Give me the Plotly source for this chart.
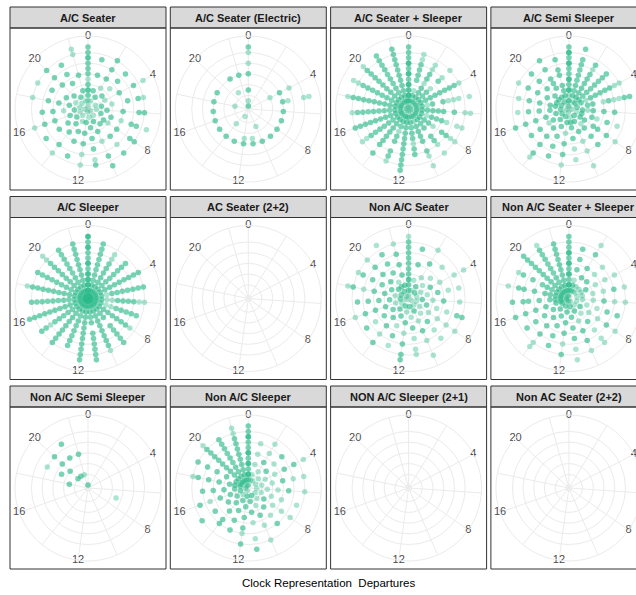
import plotly.graph_objects as go

# ---------------- data ----------------
PANEL_TITLES = [
    "A/C Seater", "A/C Seater (Electric)", "A/C Seater + Sleeper", "A/C Semi Sleeper",
    "A/C Sleeper", "AC Seater (2+2)", "Non A/C Seater", "Non A/C Seater + Sleeper",
    "Non A/C Semi Sleeper", "Non A/C Sleeper", "NON A/C Sleeper (2+1)", "Non AC Seater (2+2)",
]
TICK_HOURS = [0, 4, 8, 12, 16, 20]
TICK_LABELS = ["0", "4", "8", "12", "16", "20"]
GRID_HOURS = [0, 2, 4, 6, 8, 10, 12, 14, 16, 18, 20, 22]
MINUTE_BREAKS = [0, 10, 20, 30, 40, 50]

# one string per departure hour (0..23); each token is a departure minute,
# every "+" marks one more departure at that same time (overplotted point)
A_C_SEATER = [
    "0 5 10+ 15+ 20+ 25 30 35+ 40+ 45+ 50+ 55+", "5 15+ 30+ 45+", "10+ 20 30+ 40+ 50+",
    "15+ 25 35+ 45+", "5 15 30+ 45+ 55", "10+ 20 35+ 45+ 50", "5 15+ 30+ 45+ 50+",
    "10+ 20+ 30 40+ 45+ 55", "0 15+ 20 30+ 45+ 50+", "5 15+ 30+ 40 50+", "10+ 20+ 30 45+ 55+",
    "5 15+ 25+ 35+ 45 50+", "0 10+ 20+ 30+ 40 50", "10 20+ 30+ 45+", "5 15+ 25+ 40+ 50",
    "10+ 20+ 30+ 45+", "5 15+ 30+ 40+ 50", "0 10+ 20 30+ 40+", "5 15+ 25+ 35+ 50",
    "10 20+ 35+ 50", "5 15+ 30+ 40+ 50+", "10+ 25+ 35+ 45+", "5 15+ 30+ 50 55",
    "15 30 45",
]
A_C_SEATER_ELECTRIC = [
    "0+ 5 15+ 30+ 40 50 55", "", "", "", "20 30+ 40", "30+ 35 50 55", "30+", "30+",
    "30+", "30+", "15 30+", "25 30+", "25 30+", "5 30+", "15 30+", "30+", "30+", "30+",
    "10 30+", "30+", "", "15 30+", "30+", "55",
]
A_C_SEATER_SLEEPER = [
    "0 5+ 10+ 15+ 20+ 25+ 30+ 35+ 40+ 45+ 50+ 55+", "5 10+ 15 25+ 30+ 35+ 40+ 45 50",
    "5+ 10+ 15+ 20+ 25 30+ 35+ 40 45", "0 5 10+ 15+ 20+ 25 35+ 40 50",
    "5+ 10+ 15+ 20+ 25+ 30+ 35+ 40+ 45+ 50", "5 10+ 15 20+ 30+ 35 40 45 55",
    "0 5+ 10+ 15+ 20+ 25+ 30+ 40+ 50 55", "5 10+ 15 20+ 25+ 30+ 35 45 50",
    "5+ 10+ 15+ 20+ 25 35+ 40+ 45 50", "0 5 10+ 15+ 20+ 30+ 35+ 40 50",
    "5+ 10 15+ 20+ 25+ 30+ 40+ 45 55", "5 10+ 15+ 20+ 25+ 30 35+ 40+",
    "0 5+ 10+ 15+ 20+ 25+ 30+ 35+ 40+ 45+ 50+ 55+", "5+ 10+ 15+ 20 25+ 30+ 40+ 45+ 50",
    "5 10+ 15+ 20+ 25+ 30+ 35+ 40+ 50+", "0 5+ 10+ 15+ 20+ 25+ 30+ 35+ 40+ 45 50",
    "5+ 10+ 15+ 20+ 25+ 30+ 35+ 40+ 45+ 50+", "5 10+ 15+ 20+ 25+ 30+ 35+ 40+ 45+ 50",
    "0 5+ 10+ 15+ 20+ 25+ 30+ 35+ 40+ 45+ 50+ 55", "5+ 10+ 15+ 20+ 25+ 30+ 35+ 40+ 45+ 50 55",
    "5 10+ 15+ 20+ 25+ 30+ 35+ 40+ 45+ 50+ 55", "0 5+ 10+ 15+ 20+ 25+ 30+ 35+ 40+ 45+ 50+ 55+",
    "5+ 10+ 15+ 20+ 25+ 30+ 35+ 40+ 45+ 50+ 55+", "5 10+ 15 20+ 30+ 40+",
]
A_C_SEMI_SLEEPER = [
    "0 5+ 10 15+ 20+ 25+ 30+ 35+ 40+ 45+ 50+ 55+", "10+ 15+ 20+ 25+ 30+ 35+ 40+ 45+ 55+",
    "5 10+ 15+ 20+ 25+ 30+ 35+ 40 45+", "5+ 10+ 15+ 20+ 25+ 30+ 35+ 40+ 45+",
    "10+ 15 20+ 25+ 30+ 35+ 40+ 45 50", "5+ 15+ 20+ 30 35+ 40 45 50+ 55+",
    "0 10+ 15 20+ 30+ 40+", "5 10+ 20+ 25 35+ 45", "10+ 15+ 25+ 30+ 40+ 50",
    "5+ 15 20+ 30+ 40+", "10+ 20+ 30 40 55", "5 10+ 15+ 25+ 35 45", "0 10+ 20 30+ 40+ 50",
    "5+ 15+ 25+ 35+ 45+", "10+ 20+ 30+ 40+ 50+ 55", "5+ 15+ 20 30+ 40+",
    "0 10+ 20+ 30+ 40+ 50+", "5+ 15+ 25+ 35+ 45", "10+ 15+ 25+ 35+ 45",
    "5+ 10+ 20+ 30+ 40+ 50", "10+ 15+ 25+ 35+ 45+", "5+ 10+ 20+ 25+ 30+ 40+ 50+",
    "0 10+ 15+ 20+ 30+ 35+ 45+", "5 15+ 25+ 40+ 50+",
]
A_C_SLEEPER = [
    "0+ 5+ 10+ 15+ 20+ 25+ 30+ 35+ 40+ 45+ 50+ 55+", "0+ 5+ 10+ 15+ 20+ 25+ 30+ 35+ 40+ 45+ 50+",
    "0+ 5+ 10+ 15+ 20+ 25+ 30+ 35+ 40 45", "0+ 5+ 10+ 15+ 20+ 25+ 30+ 35+ 40+ 45+",
    "0+ 5+ 10+ 15+ 20+ 25+ 30+ 35+ 40+ 45+ 50+", "0+ 5+ 10+ 15 20+ 25+ 30+ 35+ 40+ 45+ 50+",
    "0+ 5+ 10+ 15 20 25+ 30+ 35+ 40+ 45 50", "0+ 5+ 10+ 15 20 25+ 30+ 35+ 40+ 45+",
    "0+ 5+ 10+ 15+ 20+ 25+ 30+ 35+ 40+ 45", "0+ 5+ 10+ 15+ 20+ 30+ 35+ 40+ 45+ 50+",
    "0+ 5+ 10+ 15+ 20+ 25+ 30+ 35+ 40+ 45+ 50", "0+ 5+ 10+ 15+ 20+ 30+ 35+ 40+ 45+ 50+ 55+",
    "0+ 5+ 10+ 15+ 20+ 25+ 30+ 35+ 40+ 45+ 50+ 55+", "0+ 5+ 10+ 15+ 20+ 25+ 30+ 35+ 40+ 45+",
    "0+ 5+ 10+ 15+ 20+ 25+ 30+ 35+ 40+ 45+ 50+", "0+ 5+ 10+ 15+ 20+ 25+ 30+ 35+ 40 45+ 50+",
    "0+ 5+ 10+ 15+ 20+ 25+ 30+ 35+ 40+ 45+ 50+ 55+", "0+ 5+ 10+ 15+ 20+ 25+ 30+ 35+ 40+ 45+ 50+",
    "0+ 5+ 10+ 15+ 20+ 25+ 30+ 35+ 40+ 45+ 50+ 55", "0+ 5+ 10+ 15+ 20+ 25+ 30+ 35+ 40+ 45+ 50+",
    "0+ 5+ 10+ 15+ 20+ 25+ 30+ 35+ 40+ 45+ 50 55", "0+ 5+ 10+ 15+ 20+ 25+ 30+ 35+ 40+ 45+ 50+",
    "0+ 5+ 10+ 15+ 20+ 25+ 30+ 35+ 40+ 45+ 50+", "0+ 5+ 10+ 15+ 20+ 30+ 45+ 55+",
]
NON_A_C_SEATER = [
    "0 5 10+ 15 20+ 25 30+ 35+ 40 45+ 50 55", "5 15 30+ 45+", "10+ 20 35+ 50", "5+ 15 25 40",
    "10 20+ 30 45 55", "5 15 25+ 35 45", "10+ 20 30+ 45", "5 15+ 25 35 45+ 50+",
    "0 10 20 30 40 50", "5 15 25+ 35 45", "10+ 20 30+ 40 55", "5+ 15 25+ 35 45 50",
    "10 20+ 30 40+ 50+ 55+", "5+ 15+ 25 35+ 45", "10+ 20+ 30+ 40 50+", "5 15+ 25+ 35 45+",
    "0 10 20+ 30+ 40+ 50", "5+ 15+ 25+ 35+ 45+", "10 20+ 30+ 40 50+ 55",
    "5+ 15+ 25+ 35+ 45+ 50", "0 10+ 20+ 30+ 40+ 50", "5+ 10+ 15 25+ 35+ 45+ 55",
    "10+ 20+ 30+ 40+ 50", "5 15+ 25 40 50",
]
NON_A_C_SEATER_SLEEPER = [
    "0 5+ 10+ 15+ 20+ 25+ 30+ 35+ 40+ 45+ 50+ 55+", "5+ 10+ 15 25+ 35+ 45+",
    "5 10 20+ 30+ 45+ 55", "5 10 20+ 30 40", "10 15+ 25 35 45", "5 10 20 30 40+ 50",
    "10 20 30+ 40 50", "5 15 25 35+ 45+", "10+ 20 30 40+ 50", "5 15 25+ 35 45 50",
    "0 10+ 20 30+ 40+ 50", "5+ 15+ 25+ 35+ 45 55", "0 10+ 20+ 30+ 40 50+",
    "5+ 15+ 25+ 35+ 45+", "0 10+ 20+ 30+ 40+ 50 55", "5+ 15+ 25+ 35+ 45+",
    "0 5+ 10+ 20+ 30+ 40+ 50+", "5+ 10+ 15+ 25+ 35+ 40+ 50+",
    "0 5+ 10+ 15+ 20+ 30+ 40+ 45+ 55", "5+ 10+ 15+ 20+ 25+ 35+ 45+ 50",
    "0 5+ 10+ 15+ 20+ 25+ 30+ 35+ 40+ 45+ 50+ 55+", "5+ 10+ 15+ 20+ 25+ 30+ 35+ 40+ 45+ 50+ 55",
    "0 5+ 10+ 15+ 20+ 25+ 30+ 35+ 40+ 45+ 50+", "10+ 20+ 30+ 40+",
]
NON_A_C_SEMI_SLEEPER = [
    "0+", "", "", "", "", "", "", "25", "", "", "", "", "", "", "", "", "", "",
    "15+", "25+ 40", "10+ 20+ 30+ 40+", "10+ 30+ 45+", "10 30+", "",
]
NON_A_C_SLEEPER = [
    "0 5+ 10+ 15+ 20+ 25+ 30+ 35+ 40+ 45+ 50+ 55+", "5 10 20 30 40", "5 15 25+ 35 45",
    "10 20+ 30 40+", "5 15 25 35+ 45+ 55", "10 20 30+ 40 50", "5 15 25 35+ 50",
    "10 20 30 45", "5 15+ 25 35 45", "10 20+ 30 40+", "5+ 15 25+ 35 50",
    "10+ 20+ 30 45 55+", "5+ 15+ 25+ 35+ 40 50+", "0 10+ 20+ 30+ 40+",
    "5 15+ 25+ 35+ 40+", "10+ 20+ 35+ 50+", "5+ 15+ 25+ 35 45+", "0 10+ 20+ 30+ 40+",
    "5+ 10+ 15+ 25+ 35+ 45+ 50", "5+ 10+ 20+ 30+ 40+ 50+",
    "0 5+ 10+ 15+ 20+ 25+ 30+ 35+ 40+ 45+ 50+ 55", "5+ 10+ 15+ 20+ 25+ 30+ 35+ 40+ 45+ 50+",
    "0 5+ 10+ 15+ 20+ 25+ 30+ 35+ 40+ 45+ 50 55", "10+ 20+ 30+ 45+",
]
EMPTY = [""] * 24

PANEL_DATA = [
    A_C_SEATER, A_C_SEATER_ELECTRIC, A_C_SEATER_SLEEPER, A_C_SEMI_SLEEPER,
    A_C_SLEEPER, EMPTY, NON_A_C_SEATER, NON_A_C_SEATER_SLEEPER,
    NON_A_C_SEMI_SLEEPER, NON_A_C_SLEEPER, EMPTY, EMPTY,
]

# ---------------- scales (ggplot coord_polar emulation) ----------------
HOUR_SPAN = 23                      # theta limits [0, 23] span the full circle
MIN_LO, MIN_HI = 0, 55              # data range of minutes
EXP = 0.05 * (MIN_HI - MIN_LO)
R0 = MIN_LO - EXP                   # centre of the circle
R_OUT = R0 + (MIN_HI + EXP - R0) * 0.45 / 0.4   # outer ring (0.45 vs 0.4 data radius)


def hour_deg(h):
    return h * 360.0 / HOUR_SPAN


def parse(hour_strings):
    th, rr = [], []
    for h, s in enumerate(hour_strings):
        for tok in s.split():
            k = 1 + tok.count("+")
            m = int(tok.rstrip("+"))
            for _ in range(k):
                th.append(hour_deg(h))
                rr.append(m)
    return th, rr


# ---------------- layout geometry ----------------
W, H = 652, 595
COL_LEFT = [10, 170.3, 330.6, 490.9]
PANEL_W = 156
ROW_TOP = [7, 196.5, 386]
STRIP_H = 21
PANEL_H = 162
RAD = 73

FONT = "Liberation Sans, Arial, sans-serif"
GRID = "#EBEBEB"
BORDER = "#333333"
POINT = "rgb(45,188,140)"

fig = go.Figure()
shapes, annots = [], []

for i, (title, data) in enumerate(zip(PANEL_TITLES, PANEL_DATA)):
    row, col = divmod(i, 4)
    left = COL_LEFT[col]
    top = ROW_TOP[row]
    cx = left + PANEL_W / 2
    body_top = top + STRIP_H
    body_bot = body_top + PANEL_H
    cy = (body_top + body_bot) / 2
    key = "polar" if i == 0 else f"polar{i + 1}"

    fig.update_layout({key: dict(
        domain=dict(x=[(cx - RAD) / W, (cx + RAD) / W],
                    y=[1 - (cy + RAD) / H, 1 - (cy - RAD) / H]),
        bgcolor="white",
        radialaxis=dict(range=[R0, R_OUT], tickvals=MINUTE_BREAKS, showticklabels=False,
                        ticks="", showline=False, gridcolor=GRID, gridwidth=1),
        angularaxis=dict(rotation=90, direction="clockwise",
                         tickvals=[hour_deg(h) for h in GRID_HOURS],
                         showticklabels=False, ticks="", showline=True,
                         linecolor=GRID, linewidth=1, gridcolor=GRID, gridwidth=1),
    )})

    th, rr = parse(data)
    fig.add_trace(go.Scatterpolar(
        theta=th, r=rr, mode="markers", subplot=key,
        marker=dict(size=5.5, color=POINT, opacity=0.4, line=dict(width=0)),
        hoverinfo="skip", showlegend=False,
    ))
    fig.add_trace(go.Scatterpolar(
        theta=[hour_deg(h) for h in TICK_HOURS], r=[R_OUT] * len(TICK_HOURS),
        mode="text", text=TICK_LABELS, textposition="middle center", subplot=key,
        textfont=dict(family=FONT, size=11, color="#4D4D4D"), cliponaxis=False,
        hoverinfo="skip", showlegend=False,
    ))

    # strip
    shapes.append(dict(type="rect", xref="paper", yref="paper",
                       x0=left / W, x1=(left + PANEL_W) / W,
                       y0=1 - body_top / H, y1=1 - top / H,
                       fillcolor="#D9D9D9", line=dict(color=BORDER, width=1), layer="below"))
    # panel border
    shapes.append(dict(type="rect", xref="paper", yref="paper",
                       x0=left / W, x1=(left + PANEL_W) / W,
                       y0=1 - body_bot / H, y1=1 - body_top / H,
                       fillcolor="rgba(0,0,0,0)", line=dict(color=BORDER, width=1)))
    annots.append(dict(text=f"<b>{title}</b>", xref="paper", yref="paper",
                       x=cx / W, y=1 - (top + STRIP_H / 2) / H,
                       xanchor="center", yanchor="middle", showarrow=False,
                       font=dict(family=FONT, size=11, color="#1A1A1A")))

annots.append(dict(text="Clock Representation  Departures", xref="paper", yref="paper",
                   x=328.5 / W, y=1 - 583 / H, xanchor="center", yanchor="middle",
                   showarrow=False, font=dict(family=FONT, size=11.5, color="#000000")))

fig.update_layout(width=W, height=H, margin=dict(l=0, r=0, t=0, b=0),
                  paper_bgcolor="white", plot_bgcolor="white", showlegend=False,
                  shapes=shapes, annotations=annots, font=dict(family=FONT))

fig.write_html("out.html", config={"displayModeBar": False},
               post_script="document.body.style.margin='0';document.body.style.overflow='hidden';")
